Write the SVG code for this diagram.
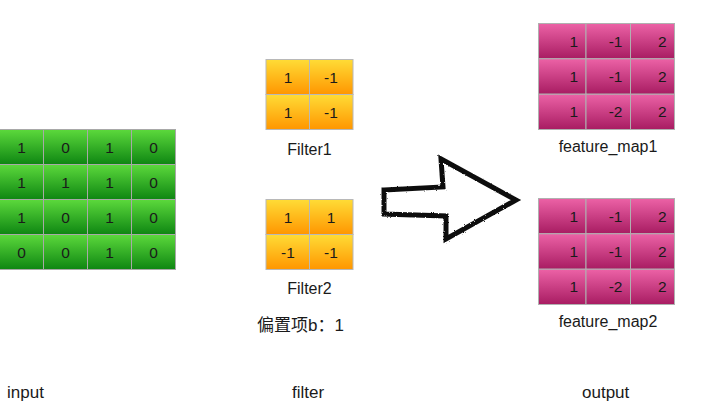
<svg xmlns="http://www.w3.org/2000/svg" width="720" height="420" viewBox="0 0 720 420">
<defs>
<linearGradient id="gg" x1="0" y1="0" x2="0" y2="1"><stop offset="0" stop-color="#5cd93c"/><stop offset="1" stop-color="#0e8612"/></linearGradient>
<linearGradient id="og" x1="0" y1="0" x2="0" y2="1"><stop offset="0" stop-color="#ffdc36"/><stop offset="1" stop-color="#ff9600"/></linearGradient>
<linearGradient id="pg" x1="0" y1="0" x2="0" y2="1"><stop offset="0" stop-color="#ec62a6"/><stop offset="1" stop-color="#a81c62"/></linearGradient>
<filter id="rough" x="-10%" y="-10%" width="120%" height="120%">
<feTurbulence type="fractalNoise" baseFrequency="0.9" numOctaves="2" seed="3" result="n"/>
<feDisplacementMap in="SourceGraphic" in2="n" scale="2.5"/>
</filter>
</defs>
<style>
.g{fill:url(#gg);stroke:#a8a8a8;stroke-width:1}
.o{fill:url(#og);stroke:#b8b8b8;stroke-width:1}
.p{fill:url(#pg);stroke:#b0b0b0;stroke-width:1}
text{font-family:"Liberation Sans","Noto Sans CJK SC",sans-serif;font-size:15.5px;fill:#1a1a1a}
.lb{font-size:16px}
.bl{font-size:17px}
.c{text-anchor:middle}
.r{text-anchor:end}
</style>
<rect width="720" height="420" fill="#ffffff"/>

<g id="input">
<rect class="g" x="-0.5" y="129.5" width="44" height="35"/><rect class="g" x="43.5" y="129.5" width="44" height="35"/><rect class="g" x="87.5" y="129.5" width="44" height="35"/><rect class="g" x="131.5" y="129.5" width="44" height="35"/>
<rect class="g" x="-0.5" y="164.5" width="44" height="35"/><rect class="g" x="43.5" y="164.5" width="44" height="35"/><rect class="g" x="87.5" y="164.5" width="44" height="35"/><rect class="g" x="131.5" y="164.5" width="44" height="35"/>
<rect class="g" x="-0.5" y="199.5" width="44" height="35"/><rect class="g" x="43.5" y="199.5" width="44" height="35"/><rect class="g" x="87.5" y="199.5" width="44" height="35"/><rect class="g" x="131.5" y="199.5" width="44" height="35"/>
<rect class="g" x="-0.5" y="234.5" width="44" height="35"/><rect class="g" x="43.5" y="234.5" width="44" height="35"/><rect class="g" x="87.5" y="234.5" width="44" height="35"/><rect class="g" x="131.5" y="234.5" width="44" height="35"/>
<text class="c" x="21.5" y="152.5">1</text><text class="c" x="65.5" y="152.5">0</text><text class="c" x="109.5" y="152.5">1</text><text class="c" x="153.5" y="152.5">0</text>
<text class="c" x="21.5" y="187.5">1</text><text class="c" x="65.5" y="187.5">1</text><text class="c" x="109.5" y="187.5">1</text><text class="c" x="153.5" y="187.5">0</text>
<text class="c" x="21.5" y="222.5">1</text><text class="c" x="65.5" y="222.5">0</text><text class="c" x="109.5" y="222.5">1</text><text class="c" x="153.5" y="222.5">0</text>
<text class="c" x="21.5" y="257.5">0</text><text class="c" x="65.5" y="257.5">0</text><text class="c" x="109.5" y="257.5">1</text><text class="c" x="153.5" y="257.5">0</text>
</g>

<g id="filter1">
<rect class="o" x="266" y="59.5" width="43.5" height="35"/><rect class="o" x="309.5" y="59.5" width="43.5" height="35"/>
<rect class="o" x="266" y="94.5" width="43.5" height="35"/><rect class="o" x="309.5" y="94.5" width="43.5" height="35"/>
<text class="c" x="288" y="82.5">1</text><text class="c" x="331" y="82.5">-1</text>
<text class="c" x="288" y="117.5">1</text><text class="c" x="331" y="117.5">-1</text>
<text class="c lb" x="309.5" y="155">Filter1</text>
</g>

<g id="filter2">
<rect class="o" x="266" y="199.5" width="43.5" height="35"/><rect class="o" x="309.5" y="199.5" width="43.5" height="35"/>
<rect class="o" x="266" y="234.5" width="43.5" height="35"/><rect class="o" x="309.5" y="234.5" width="43.5" height="35"/>
<text class="c" x="288" y="222.5">1</text><text class="c" x="331" y="222.5">1</text>
<text class="c" x="288" y="257.5">-1</text><text class="c" x="331" y="257.5">-1</text>
<text class="c lb" x="309.5" y="294">Filter2</text>
</g>

<g id="bias">
<text class="bl" x="257" y="331">偏置项b：1</text>
</g>

<g id="feature_map1">
<rect class="p" x="538.5" y="23.5" width="47.5" height="35.3"/><rect class="p" x="586" y="23.5" width="44.5" height="35.3"/><rect class="p" x="630.5" y="23.5" width="44" height="35.3"/>
<rect class="p" x="538.5" y="58.8" width="47.5" height="35.4"/><rect class="p" x="586" y="58.8" width="44.5" height="35.4"/><rect class="p" x="630.5" y="58.8" width="44" height="35.4"/>
<rect class="p" x="538.5" y="94.2" width="47.5" height="35.3"/><rect class="p" x="586" y="94.2" width="44.5" height="35.3"/><rect class="p" x="630.5" y="94.2" width="44" height="35.3"/>
<text class="r" x="578" y="46.5">1</text><text class="r" x="622.5" y="46.5">-1</text><text class="r" x="666.5" y="46.5">2</text>
<text class="r" x="578" y="81.8">1</text><text class="r" x="622.5" y="81.8">-1</text><text class="r" x="666.5" y="81.8">2</text>
<text class="r" x="578" y="117.2">1</text><text class="r" x="622.5" y="117.2">-2</text><text class="r" x="666.5" y="117.2">2</text>
<text class="c lb" x="608" y="152">feature_map1</text>
</g>

<g id="feature_map2">
<rect class="p" x="538.5" y="198.5" width="47.5" height="35.3"/><rect class="p" x="586" y="198.5" width="44.5" height="35.3"/><rect class="p" x="630.5" y="198.5" width="44" height="35.3"/>
<rect class="p" x="538.5" y="233.8" width="47.5" height="35.4"/><rect class="p" x="586" y="233.8" width="44.5" height="35.4"/><rect class="p" x="630.5" y="233.8" width="44" height="35.4"/>
<rect class="p" x="538.5" y="269.2" width="47.5" height="35.3"/><rect class="p" x="586" y="269.2" width="44.5" height="35.3"/><rect class="p" x="630.5" y="269.2" width="44" height="35.3"/>
<text class="r" x="578" y="221.5">1</text><text class="r" x="622.5" y="221.5">-1</text><text class="r" x="666.5" y="221.5">2</text>
<text class="r" x="578" y="256.8">1</text><text class="r" x="622.5" y="256.8">-1</text><text class="r" x="666.5" y="256.8">2</text>
<text class="r" x="578" y="292.2">1</text><text class="r" x="622.5" y="292.2">-2</text><text class="r" x="666.5" y="292.2">2</text>
<text class="c lb" x="608" y="327">feature_map2</text>
</g>

<g id="connectors">
<path d="M384,190 L443,187 L441,159 L516,200 L446,239 L446,216 L384,214 Z" fill="#ffffff" stroke="#111111" stroke-width="5" stroke-linejoin="miter" filter="url(#rough)"/>
</g>

<g id="labels">
<text class="bl" x="7" y="398">input</text>
<text class="bl" x="292" y="398">filter</text>
<text class="bl" x="582" y="398">output</text>
</g>
</svg>
